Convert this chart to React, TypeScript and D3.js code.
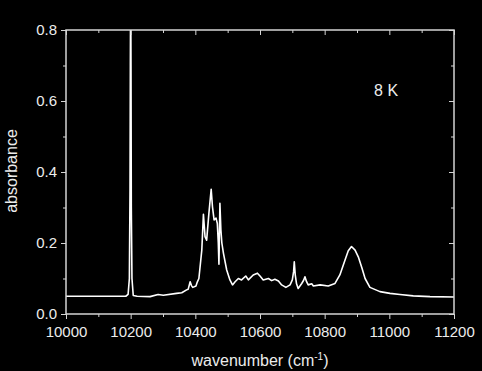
import React, { useEffect, useRef } from "react";
import * as d3 from "d3";

// spectrum (wavenumber in cm-1, absorbance)
const wavenumber = [
  10000, 10050, 10100, 10150, 10185, 10192, 10196, 10198, 10199, 10200, 10201,
  10202, 10204, 10208, 10220, 10260, 10285, 10301, 10342, 10358, 10373, 10378,
  10384, 10388, 10392, 10402, 10406, 10411, 10420, 10425, 10430, 10435, 10442,
  10449, 10453, 10458, 10464, 10468, 10471, 10473, 10476, 10479, 10482, 10487,
  10497, 10507, 10515, 10523, 10533, 10543, 10556, 10564, 10579, 10592, 10600,
  10610, 10626, 10636, 10646, 10657, 10667, 10680, 10693, 10700, 10704, 10706,
  10709, 10713, 10718, 10729, 10735, 10739, 10744, 10749, 10760, 10765, 10786,
  10811, 10832, 10847, 10863, 10873, 10883, 10894, 10904, 10915, 10925, 10940,
  10971, 11002, 11033, 11074, 11126, 11200,
];
const absorbance = [
  0.05, 0.05, 0.05, 0.05, 0.05, 0.055, 0.1, 0.35, 0.7, 0.95, 0.7, 0.3, 0.1,
  0.052, 0.05, 0.049, 0.055, 0.053, 0.058, 0.06, 0.068, 0.07, 0.091, 0.08,
  0.075, 0.079, 0.09, 0.1, 0.18, 0.281, 0.218, 0.208, 0.284, 0.351, 0.302,
  0.265, 0.27, 0.255, 0.2, 0.14, 0.312, 0.237, 0.2, 0.171, 0.124, 0.096, 0.082,
  0.091, 0.1, 0.096, 0.107, 0.096, 0.11, 0.115, 0.107, 0.096, 0.1, 0.094, 0.098,
  0.093, 0.082, 0.075, 0.082, 0.096, 0.12, 0.147, 0.11, 0.085, 0.072, 0.086,
  0.095, 0.105, 0.091, 0.082, 0.085, 0.079, 0.082, 0.079, 0.086, 0.11, 0.152,
  0.178, 0.19, 0.18, 0.161, 0.13, 0.1, 0.075, 0.063, 0.058, 0.055, 0.051, 0.049,
  0.048,
];

const xMajor = [10000, 10200, 10400, 10600, 10800, 11000, 11200];
const xMinor = [10100, 10300, 10500, 10700, 10900, 11100];
const yMajor = [0, 0.2, 0.4, 0.6, 0.8];
const yMinor = [0.1, 0.3, 0.5, 0.7];

const W = 482;
const H = 371;
const margin = { top: 30, right: 28, bottom: 57, left: 66 };
const frameColor = "#d4d4d4";
const textColor = "#ececec";
const font = "'Liberation Sans', Arial, sans-serif";

export default function App(): JSX.Element {
  const ref = useRef<SVGSVGElement>(null);

  useEffect(() => {
    if (!ref.current) return;
    const svg = d3.select(ref.current);
    svg.selectAll("*").remove();

    const width = W - margin.left - margin.right;
    const height = H - margin.top - margin.bottom;

    const x = d3.scaleLinear().domain([10000, 11200]).range([0, width]);
    const y = d3.scaleLinear().domain([0, 0.8]).range([height, 0]);

    svg.append("rect").attr("width", W).attr("height", H).attr("fill", "#000");

    const g = svg
      .append("g")
      .attr("transform", `translate(${margin.left},${margin.top})`);

    g.append("clipPath")
      .attr("id", "plot-clip")
      .append("rect")
      .attr("width", width)
      .attr("height", height);

    const line = d3
      .line<number>()
      .x((_, i) => x(wavenumber[i]))
      .y((d) => y(d));

    g.append("path")
      .datum(absorbance)
      .attr("clip-path", "url(#plot-clip)")
      .attr("fill", "none")
      .attr("stroke", "#fff")
      .attr("stroke-width", 1.6)
      .attr("stroke-linejoin", "round")
      .attr("d", line);

    const styleAxis = (sel: d3.Selection<SVGGElement, unknown, null, undefined>) => {
      sel.select(".domain").remove();
      sel.selectAll("line").attr("stroke", frameColor).attr("stroke-width", 1);
      sel
        .selectAll("text")
        .attr("fill", textColor)
        .style("font-family", font)
        .style("font-size", "15px");
    };

    // bottom axis, outward ticks
    g.append("g")
      .attr("transform", `translate(0,${height})`)
      .call(d3.axisBottom(x).tickValues(xMajor).tickSize(5).tickPadding(7).tickFormat(d3.format("d")))
      .call(styleAxis);
    g.append("g")
      .attr("transform", `translate(0,${height})`)
      .call(d3.axisBottom(x).tickValues(xMinor).tickSize(3).tickFormat(() => ""))
      .call(styleAxis);

    // left axis, outward ticks
    g.append("g")
      .call(d3.axisLeft(y).tickValues(yMajor).tickSize(5).tickPadding(4).tickFormat(d3.format(".1f")))
      .call(styleAxis);
    g.append("g")
      .call(d3.axisLeft(y).tickValues(yMinor).tickSize(3).tickFormat(() => ""))
      .call(styleAxis);

    // top and right, inward ticks
    g.append("g")
      .call(d3.axisTop(x).tickValues(xMajor).tickSize(-5).tickFormat(() => ""))
      .call(styleAxis);
    g.append("g")
      .call(d3.axisTop(x).tickValues(xMinor).tickSize(-3).tickFormat(() => ""))
      .call(styleAxis);
    g.append("g")
      .attr("transform", `translate(${width},0)`)
      .call(d3.axisRight(y).tickValues(yMajor).tickSize(-5).tickFormat(() => ""))
      .call(styleAxis);
    g.append("g")
      .attr("transform", `translate(${width},0)`)
      .call(d3.axisRight(y).tickValues(yMinor).tickSize(-3).tickFormat(() => ""))
      .call(styleAxis);

    g.append("rect")
      .attr("width", width)
      .attr("height", height)
      .attr("fill", "none")
      .attr("stroke", frameColor)
      .attr("stroke-width", 1.5);

    // axis titles
    const xt = svg
      .append("text")
      .attr("x", margin.left + width / 2)
      .attr("y", 366)
      .attr("text-anchor", "middle")
      .attr("fill", textColor)
      .style("font-family", font)
      .style("font-size", "16px");
    xt.append("tspan").text("wavenumber (cm");
    xt.append("tspan").attr("dy", -6).style("font-size", "10px").text("-1");
    xt.append("tspan").attr("dy", 6).text(")");

    svg
      .append("text")
      .attr("transform", `translate(17,${margin.top + height / 2 - 1}) rotate(-90)`)
      .attr("text-anchor", "middle")
      .attr("fill", textColor)
      .style("font-family", font)
      .style("font-size", "16px")
      .text("absorbance");

    g.append("text")
      .attr("x", x(10990))
      .attr("y", y(0.615))
      .attr("text-anchor", "middle")
      .attr("fill", textColor)
      .style("font-family", font)
      .style("font-size", "16px")
      .text("8 K");
  }, []);

  return (
    <svg
      ref={ref}
      width={W}
      height={H}
      style={{ position: "absolute", left: 0, top: 0, display: "block" }}
    />
  );
}
